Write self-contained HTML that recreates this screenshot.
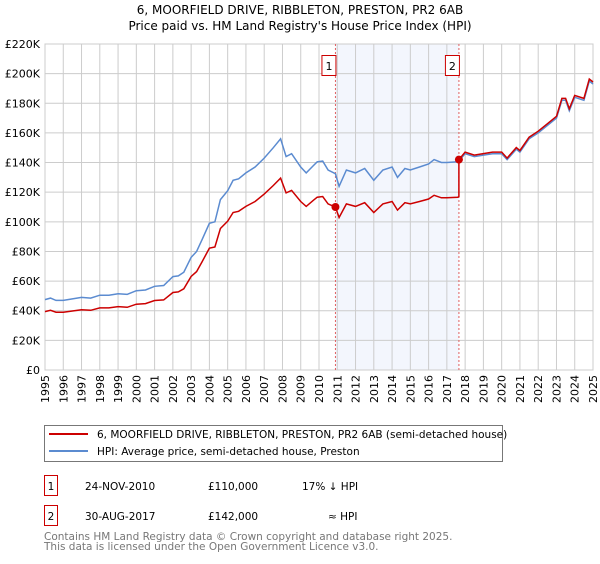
<!DOCTYPE html>
<html><head><meta charset="utf-8"><style>
body{margin:0;background:#fff;font-family:"DejaVu Sans","Liberation Sans",sans-serif;}
svg text{font-family:"DejaVu Sans","Liberation Sans",sans-serif;}
</style></head><body>
<svg id="c" width="600" height="560" viewBox="0 0 600 560">
<text x="300" y="14" text-anchor="middle" font-size="12" fill="#000">6, MOORFIELD DRIVE, RIBBLETON, PRESTON, PR2 6AB</text>
<text x="300" y="30" text-anchor="middle" font-size="12" fill="#000">Price paid vs. HM Land Registry's House Price Index (HPI)</text>
<g id="plot"></g>
<rect x="44.5" y="425.5" width="458" height="36" fill="#fff" stroke="#777"/>
<line x1="49" y1="434" x2="88" y2="434" stroke="#cc0000" stroke-width="2"/>
<text x="97" y="438" font-size="10.5">6, MOORFIELD DRIVE, RIBBLETON, PRESTON, PR2 6AB (semi-detached house)</text>
<line x1="49" y1="451" x2="88" y2="451" stroke="#5b8bd0" stroke-width="2"/>
<text x="97" y="455" font-size="10.5">HPI: Average price, semi-detached house, Preston</text>
<g>
<rect x="44.5" y="475.5" width="13" height="20" fill="none" stroke="#cc0000"/>
<text x="51" y="490" font-size="10.5" text-anchor="middle">1</text>
<text x="85" y="490" font-size="10.5">24-NOV-2010</text>
<text x="208" y="490" font-size="10.5">£110,000</text>
<text x="302" y="490" font-size="10.5">17% ↓ HPI</text>
</g>
<g>
<rect x="44.5" y="505.5" width="13" height="20" fill="none" stroke="#cc0000"/>
<text x="51" y="520" font-size="10.5" text-anchor="middle">2</text>
<text x="85" y="520" font-size="10.5">30-AUG-2017</text>
<text x="208" y="520" font-size="10.5">£142,000</text>
<text x="328" y="520" font-size="10.5">≈ HPI</text>
</g>
<text x="44" y="540" font-size="10.5" fill="#777">Contains HM Land Registry data © Crown copyright and database right 2025.</text>
<text x="44" y="550" font-size="10.5" fill="#777">This data is licensed under the Open Government Licence v3.0.</text>
</svg>
<script>
const yTicks=[0,20000,40000,60000,80000,100000,120000,140000,160000,180000,200000,220000];
const years=[1995,1996,1997,1998,1999,2000,2001,2002,2003,2004,2005,2006,2007,2008,2009,2010,2011,2012,2013,2014,2015,2016,2017,2018,2019,2020,2021,2022,2023,2024,2025];
const hpiDates=[1995,1995.3,1995.6,1996,1996.5,1997,1997.5,1998,1998.5,1999,1999.5,2000,2000.5,2001,2001.5,2002,2002.3,2002.6,2003,2003.3,2003.6,2004,2004.3,2004.6,2005,2005.3,2005.6,2006,2006.5,2007,2007.5,2007.9,2008.2,2008.5,2009,2009.3,2009.7,2009.9,2010.2,2010.5,2010.9,2011.1,2011.5,2012,2012.5,2013,2013.5,2014,2014.3,2014.7,2015,2015.5,2016,2016.3,2016.7,2017,2017.6,2017.66,2018,2018.5,2019,2019.5,2020,2020.3,2020.8,2021,2021.5,2022,2022.5,2023,2023.3,2023.5,2023.7,2024,2024.5,2024.8,2025];
const hpiValues=[47500,48500,47000,47000,48000,49000,48500,50500,50500,51500,51000,53500,54000,56500,57000,63000,63500,66000,76000,80000,88000,99000,100000,115000,121000,128000,129000,133000,137000,143000,150000,156000,144000,146000,137000,133000,138000,140500,141000,135000,132500,124000,135000,133000,136000,128000,135000,137000,130000,136000,135000,137000,139000,142000,140000,140000,140500,141000,146000,144000,145000,146000,146000,142000,149000,147000,156000,160000,165000,170000,182000,182000,175000,184000,182000,195000,193000];
const saleDates=[2010.9,2017.66];
const salePrices=[110000,142000];
const x0=45,x1=593,y0=370,y1=44;
const xs=d=>x0+(d-1995)/30*(x1-x0);
const ys=v=>y0-(v/220000)*(y0-y1);
const NS="http://www.w3.org/2000/svg";
const g=document.getElementById('plot');
function mk(t,a){const e=document.createElementNS(NS,t);for(const k in a)e.setAttribute(k,a[k]);g.appendChild(e);return e;}
const band=mk('rect',{x:xs(saleDates[0]),y:y1,width:xs(saleDates[1])-xs(saleDates[0]),height:y0-y1,fill:'#eef2fc',opacity:0.7});


years.forEach(y=>{const l=mk('line',{x1:xs(y),x2:xs(y),y1:y1,y2:y0,stroke:'#ccc','stroke-width':1});


const t=mk('text',{x:0,y:0,'font-size':11,'text-anchor':'end',transform:`translate(${xs(y)+4},${y0+5}) rotate(-90)`});t.textContent=y;

});
yTicks.forEach(v=>{const l=mk('line',{x1:x0,x2:x1,y1:ys(v),y2:ys(v),stroke:'#ccc','stroke-width':1});


const t=mk('text',{x:40,y:ys(v)+4,'font-size':11,'text-anchor':'end'});t.textContent='£'+(v===0?'0':(v/1000)+'K');

});
const fr=mk('rect',{x:x0,y:y1,width:x1-x0,height:y0-y1,fill:'none',stroke:'#ccc'});


function hpiAt(d){for(let i=1;i<hpiDates.length;i++){if(hpiDates[i]>=d){const f=(d-hpiDates[i-1])/(hpiDates[i]-hpiDates[i-1]);return hpiValues[i-1]+f*(hpiValues[i]-hpiValues[i-1]);}}return hpiValues[hpiValues.length-1];}
saleDates.forEach((d,i)=>{const l=mk('line',{x1:xs(d),x2:xs(d),y1:y1,y2:y0,stroke:'#e06060','stroke-dasharray':'2,2'});


const r=mk('rect',{x:xs(d)-13.5,y:55.5,width:14,height:20,fill:'#fff',stroke:'#cc0000'});


const t=mk('text',{x:xs(d)-6.5,y:70,'font-size':11,'text-anchor':'middle'});t.textContent=i+1;

});
let hp='';hpiDates.forEach((d,i)=>{hp+=(i?'L':'M')+xs(d).toFixed(1)+','+ys(hpiValues[i]).toFixed(1);});
const hl=mk('path',{d:hp,fill:'none',stroke:'#5b8bd0','stroke-width':1.5});


// property line: HPI indexed to each sale price
let rp='';hpiDates.forEach((d,i)=>{let k=d<saleDates[1]?0:1;const ratio=salePrices[k]/hpiAt(saleDates[k]);rp+=(i?'L':'M')+xs(d).toFixed(1)+','+ys(hpiValues[i]*ratio).toFixed(1);
if(i+1<hpiDates.length&&d<saleDates[1]&&hpiDates[i+1]>=saleDates[1]){rp+='L'+xs(saleDates[1]).toFixed(1)+','+ys(hpiAt(saleDates[1])*salePrices[0]/hpiAt(saleDates[0])).toFixed(1)+'L'+xs(saleDates[1]).toFixed(1)+','+ys(salePrices[1]).toFixed(1);}});
const rl=mk('path',{d:rp,fill:'none',stroke:'#cc0000','stroke-width':1.5});


saleDates.forEach((d,i)=>{const c=mk('circle',{cx:xs(d),cy:ys(salePrices[i]),r:4,fill:'#cc0000'});

});
</script>
</body></html>
